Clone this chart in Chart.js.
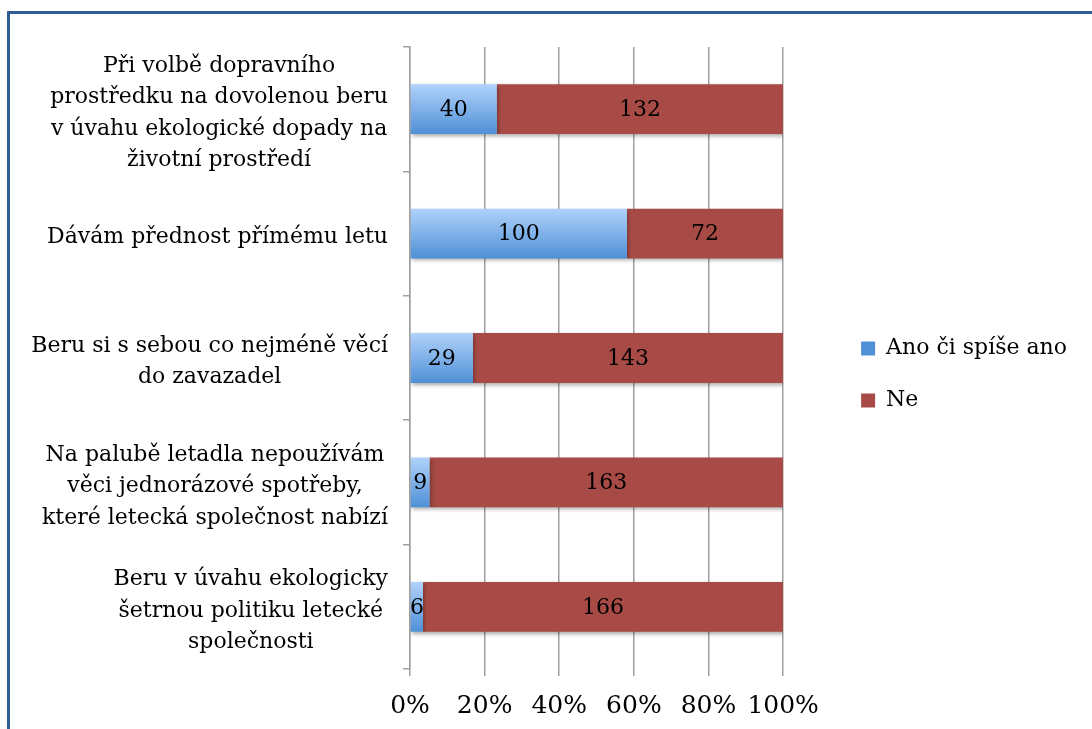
<!DOCTYPE html>
<html>
<head>
<meta charset="utf-8">
<script src="https://cdn.jsdelivr.net/npm/chart.js@4"></script>
<style>
  html, body { margin: 0; padding: 0; background: #fff; overflow: hidden; }
  #frame { position: absolute; left: 7px; top: 11px; width: 1200px; height: 800px; border: 3px solid #2e5f94; }
  #chart1 { position: absolute; left: 0; top: 0; }
</style>
</head>
<body>
<div id="frame"></div>
<canvas id="chart1" width="1092" height="729"></canvas>
<script>
    let categories = [
        ['Při volbě dopravního', 'prostředku na dovolenou beru', 'v úvahu ekologické dopady na', 'životní prostředí'],
        ['Dávám přednost přímému letu'],
        ['Beru si s sebou co nejméně věcí', 'do zavazadel'],
        ['Na palubě letadla nepoužívám', 'věci jednorázové spotřeby,', 'které letecká společnost nabízí'],
        ['Beru v úvahu ekologicky', 'šetrnou politiku letecké', 'společnosti']
    ];
    let seriesNames = ['Ano či spíše ano', 'Ne'];
    let anoValues = [40, 100, 29, 9, 6];
    let neValues = [132, 72, 143, 163, 166];
    let xTicks = [0, 20, 40, 60, 80, 100];

    let counts = [anoValues, neValues];
    let toPercent = function(arr) {
        return arr.map(function(v, i) { return v / (anoValues[i] + neValues[i]) * 100; });
    };

    let fontFamily = 'DejaVu Serif';
    let fontSize = 22;

    let blueFill = function(context) {
        if (context.type !== 'data') return '#6fa6e6';
        let chart = context.chart;
        let y = chart.scales.y;
        if (!y || !chart.chartArea) return '#6fa6e6';
        let c = y.getPixelForValue(context.dataIndex);
        let half = (y.height / categories.length) * 0.4 / 2;
        let g = chart.ctx.createLinearGradient(0, c - half, 0, c + half);
        g.addColorStop(0, '#b0d2fb');
        g.addColorStop(1, '#4f90d6');
        return g;
    };

    let barShadow = {
        id: 'barShadow',
        beforeDatasetsDraw: function(chart) {
            let ctx = chart.ctx;
            ctx.save();
            ctx.shadowColor = 'rgba(0,0,0,0.35)';
            ctx.shadowBlur = 4;
            ctx.shadowOffsetX = 1;
            ctx.shadowOffsetY = 2;
        },
        afterDatasetsDraw: function(chart) {
            chart.ctx.restore();
        }
    };

    let valueLabels = {
        id: 'valueLabels',
        afterDatasetsDraw: function(chart) {
            let ctx = chart.ctx;
            ctx.save();
            ctx.font = fontSize + 'px "' + fontFamily + '"';
            ctx.fillStyle = '#000';
            ctx.textAlign = 'center';
            ctx.textBaseline = 'middle';
            chart.data.datasets.forEach(function(ds, d) {
                chart.getDatasetMeta(d).data.forEach(function(el, i) {
                    let p = el.getCenterPoint();
                    ctx.fillText(String(counts[d][i]), p.x, p.y + 1);
                });
            });
            ctx.restore();
        }
    };

    // multi-line category labels: right-aligned block, lines centred inside it
    let catLabels = {
        id: 'catLabels',
        afterDraw: function(chart) {
            let y = chart.scales.y;
            let ctx = chart.ctx;
            ctx.save();
            ctx.font = fontSize + 'px "' + fontFamily + '"';
            ctx.fillStyle = '#000';
            ctx.textAlign = 'center';
            ctx.textBaseline = 'middle';
            let right = y.right - 22;
            let lh = 31.5;
            categories.forEach(function(lines, i) {
                let w = Math.max.apply(null, lines.map(function(s) { return ctx.measureText(s).width; }));
                let cx = right - w / 2;
                let cy = y.getPixelForValue(i) + 4;
                lines.forEach(function(s, k) {
                    ctx.fillText(s, cx, cy + (k - (lines.length - 1) / 2) * lh);
                });
            });
            ctx.restore();
        }
    };

    // push the legend a bit away from the plot and up, like the original
    let legendShift = {
        id: 'legendShift',
        afterLayout: function(chart) {
            let lg = chart.legend;
            if (!lg) return;
            lg.left += 48;
            lg.right += 48;
            lg.top -= 17;
            lg.bottom -= 17;
        }
    };

    let chart1 = document.getElementById('chart1').getContext('2d');

    let surveyChart = new Chart(chart1, {
    type:'bar',
    data:{
    labels:categories,
    datasets:[{
    label:seriesNames[0],
    data:toPercent(anoValues),
    backgroundColor:blueFill,
    borderWidth:0,
    categoryPercentage:1,
    barPercentage:0.4
},{
    label:seriesNames[1],
    data:toPercent(neValues),
    backgroundColor:'#a84b46',
    borderWidth:0,
    categoryPercentage:1,
    barPercentage:0.4
}]
},
    plugins:[barShadow, valueLabels, catLabels, legendShift],
    options:{
    indexAxis:'y',
    responsive:false,
    animation:false,
    devicePixelRatio:1,
    scales:{
    x:{
    stacked:true,
    min:0,
    max:100,
    afterBuildTicks:function(axis) {
        axis.ticks = xTicks.map(function(v) { return {value:v}; });
    },
    ticks:{
    callback:function(v) { return v + '%'; },
    color:'#000',
    font:{family:fontFamily, size:25},
    padding:15,
    maxRotation:0
},
    grid:{
    color:'#a0a0a0',
    lineWidth:1.5,
    tickLength:7
},
    border:{display:false}
},
    y:{
    stacked:true,
    offset:true,
    ticks:{
    display:false,
    autoSkip:false
},
    grid:{
    offset:true,
    drawOnChartArea:false,
    color:'#a0a0a0',
    lineWidth:1.5,
    tickLength:7
},
    border:{display:true, color:'#a0a0a0', width:1.5},
    afterFit:function(axis) { axis.width = 407; }
}
},
    plugins:{
    legend:{
    display:true,
    position:'right',
    labels:{
    font:{family:fontFamily, size:fontSize},
    color:'#000',
    boxWidth:14,
    boxHeight:14,
    padding:30
}
},
    tooltip:{enabled:false}
},
    layout:{
    padding:{
    left:3,
    right:63,
    bottom:-7,
    top:47
}
}
}
});
</script>
</body>
</html>
